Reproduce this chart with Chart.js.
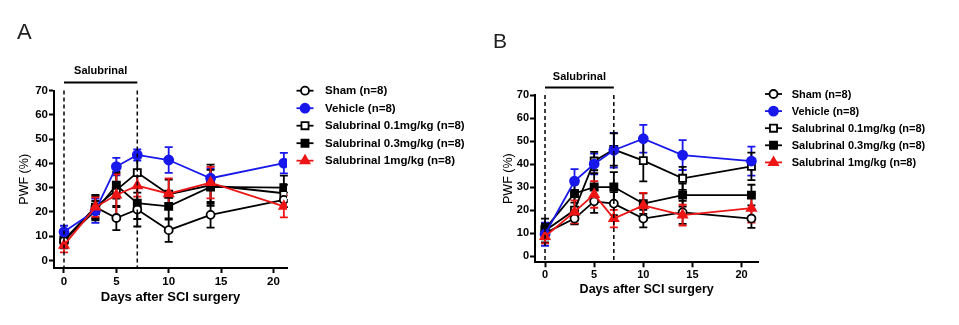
<!DOCTYPE html>
<html>
<head>
<meta charset="utf-8">
<title>PWF after SCI surgery</title>
<script src="https://cdn.jsdelivr.net/npm/chart.js@4"></script>
<style>
  body { margin: 0; background: #fff; }
  #wrap { position: relative; width: 959px; height: 325px; overflow: hidden; }
  #wrap canvas { position: absolute; top: 0; }
  .panel-tag { position: absolute; font-family: "Liberation Sans", Arial, sans-serif; font-size: 22px; line-height: 22px; color: #222; }
</style>
</head>
<body>
<div id="wrap">
  <canvas id="chartA" width="480" height="325" style="left:0"></canvas>
  <canvas id="chartB" width="479" height="325" style="left:480px"></canvas>
  <div class="panel-tag" style="left:17px;top:21px">A</div>
  <div class="panel-tag" style="left:493px;top:30px;font-size:21px">B</div>
</div>
<script>
// Days of measurement and axis ticks
const days = [0, 3, 5, 7, 10, 14, 21];
const xTicks = [0, 5, 10, 15, 20];
const yTicks = [0, 10, 20, 30, 40, 50, 60, 70];

const groupNames = [
  "Sham (n=8)",
  "Vehicle (n=8)",
  "Salubrinal 0.1mg/kg (n=8)",
  "Salubrinal 0.3mg/kg (n=8)",
  "Salubrinal 1mg/kg (n=8)"
];

// Salubrinal treatment window (days)
const treatLabel = "Salubrinal";
const treatStart = 0;
const treatEnd = 7;

// Panel A: mean PWF (%) and SEM
const shamA = [8, 22, 17.5, 21, 12.5, 18.8, 25];
const vehicleA = [11.8, 20.5, 38.7, 43.5, 41.4, 33.9, 40.1];
const sal01A = [8.5, 22, 29, 36.2, 27.3, 31, 27.7];
const sal03A = [8.4, 20.5, 31, 23.6, 22.3, 30.3, 30];
const sal1A = [6.3, 22, 27, 30.8, 27.5, 32.1, 22.3];

const shamAErr = [3, 5, 5, 7, 4.8, 5.3, 3];
const vehicleAErr = [2.5, 5, 3.6, 2.3, 5.3, 4, 4.2];
const sal01AErr = [3, 4.5, 7, 6, 6, 8.5, 3.5];
const sal03AErr = [3, 4, 5.5, 6.5, 5.5, 7, 5];
const sal1AErr = [3, 4, 8.5, 4.5, 6.3, 6.5, 4.5];

// Panel B: mean PWF (%) and SEM
const shamB = [10, 16.3, 23.8, 22.8, 16.3, 19, 16.3];
const vehicleB = [9.5, 32.6, 40, 46, 51, 43.9, 41.3];
const sal01B = [11, 20, 41.3, 46.3, 41.5, 33.8, 39];
const sal03B = [11.8, 27.2, 30, 30, 22.8, 26.5, 26.5];
const sal1B = [8.5, 19.2, 26.8, 16.3, 22, 17.8, 20.8];

const shamBErr = [4, 2.5, 5, 5, 3.8, 5, 4];
const vehicleBErr = [5, 5.2, 4.5, 7.5, 6, 6.5, 6.3];
const sal01BErr = [3, 6, 4, 7, 9, 5, 6];
const sal03BErr = [4.5, 4, 6, 6.5, 4.5, 5, 4.5];
const sal1BErr = [3, 5, 5.8, 3.8, 5.5, 4.5, 6.2];

const groupStyles = [
  { color: "#000000", fill: "#ffffff", shape: "circle", radius: 4, order: 2 },
  { color: "#1818ec", fill: "#1818ec", shape: "circle", radius: 4.5, order: 1 },
  { color: "#000000", fill: "#ffffff", shape: "rect", radius: 5, order: 4 },
  { color: "#000000", fill: "#000000", shape: "rect", radius: 5, order: 3 },
  { color: "#ee1515", fill: "#ee1515", shape: "triangle", radius: 5.2, order: 0 }
];

Chart.defaults.font.family = "'Liberation Sans', Arial, sans-serif";
Chart.defaults.color = "#000";

function drawMarker(ctx, style, x, y) {
  const r = style.radius;
  ctx.beginPath();
  if (style.shape === "circle") {
    ctx.arc(x, y, r, 0, Math.PI * 2);
  } else if (style.shape === "rect") {
    const s = Math.SQRT1_2 * r;
    ctx.rect(x - s, y - s, 2 * s, 2 * s);
  } else {
    ctx.moveTo(x, y - r);
    ctx.lineTo(x + r * Math.sin(Math.PI * 2 / 3), y + r * 0.5);
    ctx.lineTo(x - r * Math.sin(Math.PI * 2 / 3), y + r * 0.5);
    ctx.closePath();
  }
  ctx.fillStyle = style.fill;
  ctx.fill();
  ctx.lineWidth = 1.8;
  ctx.strokeStyle = style.color;
  ctx.stroke();
}

// SEM whiskers with caps, drawn under the lines
const errorBars = {
  id: "errorBars",
  beforeDatasetsDraw(chart) {
    const { ctx, scales: { x, y } } = chart;
    ctx.save();
    chart.data.datasets.forEach((ds) => {
      ctx.strokeStyle = ds.borderColor;
      ctx.lineWidth = 1.8;
      ds.data.forEach((pt, j) => {
        const e = ds.errors[j];
        const px = x.getPixelForValue(pt.x);
        const top = y.getPixelForValue(pt.y + e);
        const bot = y.getPixelForValue(pt.y - e);
        ctx.beginPath();
        ctx.moveTo(px, top);
        ctx.lineTo(px, bot);
        ctx.moveTo(px - 4, top);
        ctx.lineTo(px + 4, top);
        ctx.moveTo(px - 4, bot);
        ctx.lineTo(px + 4, bot);
        ctx.stroke();
      });
    });
    ctx.restore();
  }
};

// Treatment bar on top plus dashed day markers
const treatment = {
  id: "treatment",
  afterDraw(chart, args, opts) {
    const { ctx, chartArea, scales: { x, y } } = chart;
    const x0 = x.getPixelForValue(treatStart);
    const x1 = x.getPixelForValue(treatEnd);
    const yBar = y.getPixelForValue(73.3);
    ctx.save();
    ctx.strokeStyle = "#000";
    ctx.lineWidth = 2;
    ctx.beginPath();
    ctx.moveTo(x0, yBar);
    ctx.lineTo(x1, yBar);
    ctx.stroke();
    ctx.lineWidth = 1.5;
    ctx.setLineDash([4, 3]);
    ctx.beginPath();
    [x0, x1].forEach((px) => {
      ctx.moveTo(px, chartArea.top);
      ctx.lineTo(px, chartArea.bottom);
    });
    ctx.stroke();
    ctx.setLineDash([]);
    ctx.fillStyle = "#000";
    ctx.font = "bold " + opts.size + "px 'Liberation Sans', Arial, sans-serif";
    ctx.textAlign = "center";
    ctx.textBaseline = "middle";
    ctx.fillText(treatLabel, (x0 + x1) / 2, y.getPixelForValue(77.9));
    ctx.restore();
  }
};

// Legend with line-through markers, placed right of the plot
const sideLegend = {
  id: "sideLegend",
  afterDraw(chart, args, opts) {
    const { ctx } = chart;
    ctx.save();
    ctx.font = "bold " + opts.size + "px 'Liberation Sans', Arial, sans-serif";
    ctx.textBaseline = "middle";
    ctx.textAlign = "left";
    chart.data.datasets.forEach((ds, i) => {
      const style = groupStyles[i];
      const cy = opts.top + i * opts.step;
      ctx.strokeStyle = style.color;
      ctx.lineWidth = 1.8;
      ctx.beginPath();
      ctx.moveTo(opts.cx - 8.5, cy);
      ctx.lineTo(opts.cx + 8.5, cy);
      ctx.stroke();
      drawMarker(ctx, style, opts.cx, cy);
      ctx.fillStyle = "#000";
      ctx.fillText(ds.label, opts.textX, cy + 0.5);
    });
    ctx.restore();
  }
};

function buildPanel(canvasId, means, errors, look) {
  const datasets = groupNames.map((name, i) => ({
    label: name,
    data: days.map((d, j) => ({ x: d, y: means[i][j] })),
    errors: errors[i],
    borderColor: groupStyles[i].color,
    backgroundColor: groupStyles[i].fill,
    pointBackgroundColor: groupStyles[i].fill,
    pointBorderColor: groupStyles[i].color,
    pointStyle: groupStyles[i].shape,
    pointRadius: groupStyles[i].radius,
    pointBorderWidth: 1.8,
    borderWidth: 1.8,
    tension: 0,
    order: groupStyles[i].order
  }));

  const axisGrid = { display: true, drawOnChartArea: false, drawTicks: true, tickLength: 5, tickWidth: 2, tickColor: "#000" };
  const axisBorder = { display: true, color: "#000", width: 2 };

  return new Chart(document.getElementById(canvasId), {
    type: "line",
    data: { datasets: datasets },
    plugins: [errorBars, treatment, sideLegend],
    options: {
      responsive: false,
      animation: false,
      layout: { padding: { top: look.top, right: look.right, bottom: 0, left: 0 } },
      scales: {
        x: {
          type: "linear",
          min: look.xMin,
          max: look.xMax,
          afterBuildTicks: (s) => { s.ticks = xTicks.map((v) => ({ value: v })); },
          afterFit: (s) => { s.height = look.xAxisHeight; },
          grid: axisGrid,
          border: axisBorder,
          ticks: { color: "#000", font: { size: look.tickSize, weight: "bold" }, padding: look.xTickPad, maxRotation: 0 },
          title: {
            display: true,
            text: "Days after SCI surgery",
            color: "#000",
            font: { size: look.xTitleSize, weight: "bold" },
            padding: { top: 0, bottom: look.xTitlePad }
          }
        },
        y: {
          min: look.yMin,
          max: 70,
          afterBuildTicks: (s) => { s.ticks = yTicks.map((v) => ({ value: v })); },
          afterFit: (s) => { s.width = look.yAxisWidth; },
          grid: axisGrid,
          border: axisBorder,
          ticks: { color: "#000", font: { size: look.tickSize, weight: "bold" }, padding: 1 },
          title: {
            display: true,
            text: "PWF (%)",
            color: "#000",
            font: { size: 12.5 },
            padding: { top: look.yTitlePad, bottom: 0 }
          }
        }
      },
      plugins: {
        legend: { display: false },
        tooltip: { enabled: false },
        treatment: { size: look.treatSize },
        sideLegend: look.legend
      }
    }
  });
}

buildPanel("chartA",
  [shamA, vehicleA, sal01A, sal03A, sal1A],
  [shamAErr, vehicleAErr, sal01AErr, sal03AErr, sal1AErr],
  {
    top: 90.6, right: 193, xMin: -0.955, xMax: 21.3, yMin: -3.1,
    xAxisHeight: 57, yAxisWidth: 54, tickSize: 11.5, xTickPad: 2,
    xTitleSize: 13, xTitlePad: 20, yTitlePad: 17.5, treatSize: 11,
    legend: { cx: 305, textX: 325, top: 90.7, step: 17.5, size: 11.5 }
  });

buildPanel("chartB",
  [shamB, vehicleB, sal01B, sal03B, sal1B],
  [shamBErr, vehicleBErr, sal01BErr, sal03BErr, sal1BErr],
  {
    top: 95, right: 200.7, xMin: -1.02, xMax: 21.7, yMin: -2.7,
    xAxisHeight: 62.7, yAxisWidth: 55, tickSize: 11, xTickPad: 1,
    xTitleSize: 12.5, xTitlePad: 27.5, yTitlePad: 20.8, treatSize: 11,
    legend: { cx: 293.5, textX: 311.7, top: 94, step: 17.1, size: 11 }
  });
</script>
</body>
</html>
